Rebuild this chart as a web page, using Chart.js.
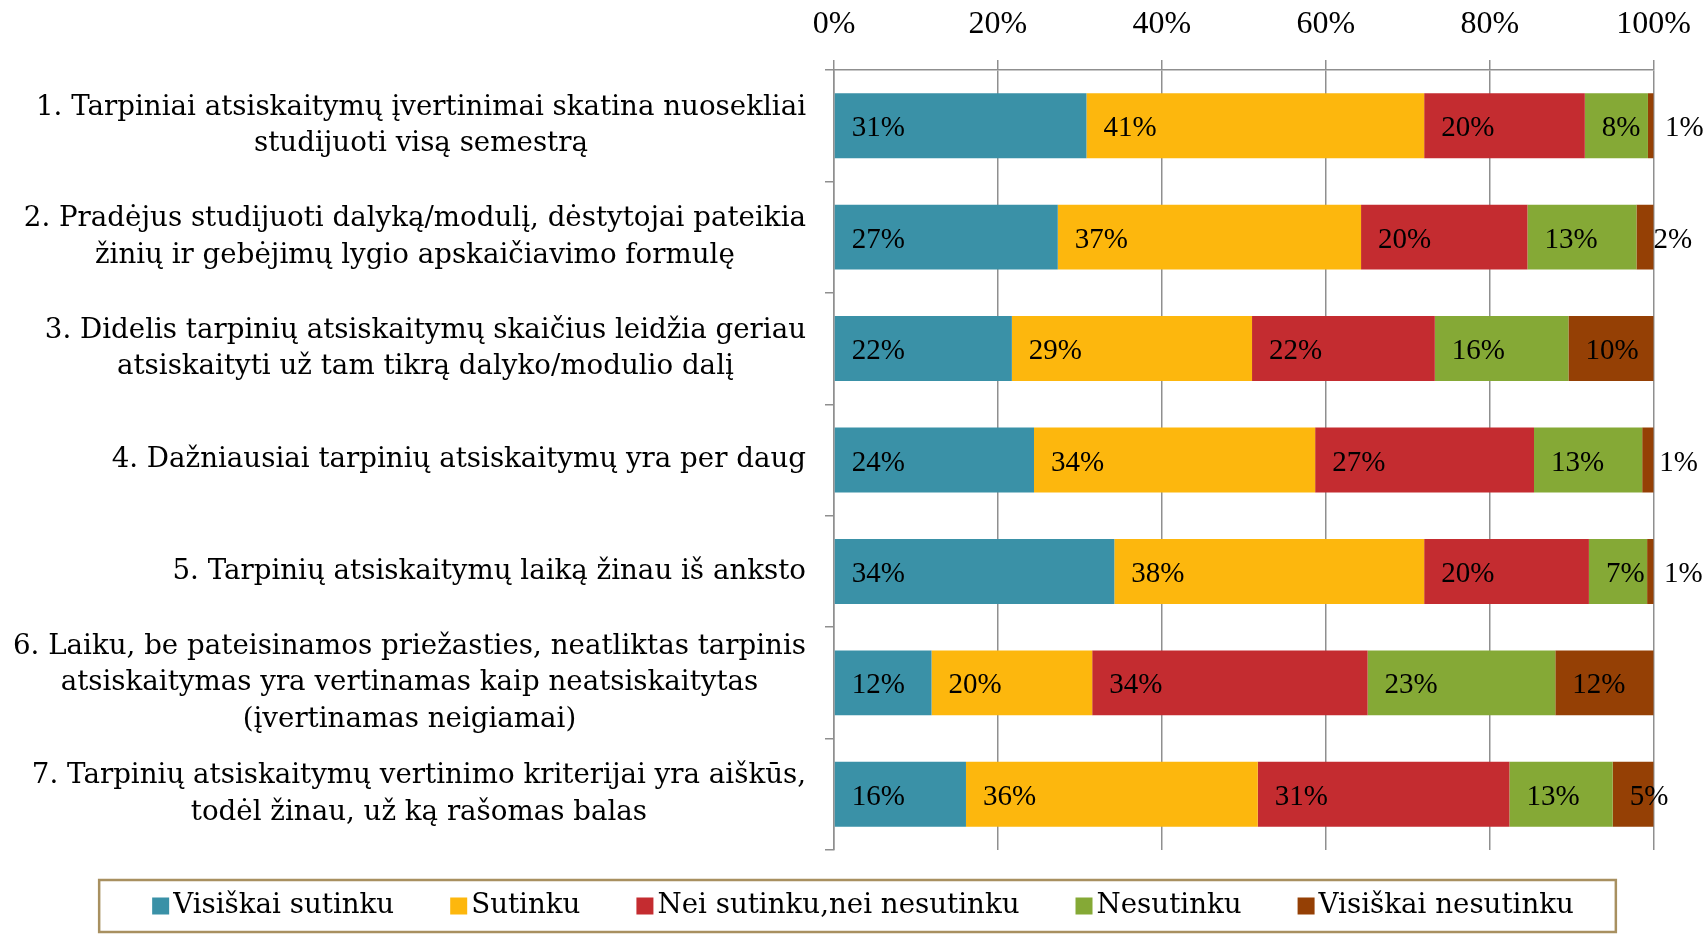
<!DOCTYPE html>
<html>
<head>
<meta charset="utf-8">
<title>Tarpiniai atsiskaitymai</title>
<script src="https://cdn.jsdelivr.net/npm/chart.js@4/dist/chart.umd.min.js"></script>
<style>
  html, body { margin: 0; padding: 0; background: #fff; }
  #wrap { width: 1707px; height: 934px; position: relative; }
</style>
</head>
<body>
<div id="wrap"><canvas id="myChart"></canvas></div>
<script>
// statements (multi-line labels)
const categories = [
  ['1. Tarpiniai atsiskaitymų įvertinimai skatina nuosekliai', 'studijuoti visą semestrą'],
  ['2. Pradėjus studijuoti dalyką/modulį, dėstytojai pateikia', 'žinių ir gebėjimų lygio apskaičiavimo formulę'],
  ['3. Didelis tarpinių atsiskaitymų skaičius leidžia geriau', 'atsiskaityti už tam tikrą dalyko/modulio dalį'],
  ['4. Dažniausiai tarpinių atsiskaitymų yra per daug'],
  ['5. Tarpinių atsiskaitymų laiką žinau iš anksto'],
  ['6. Laiku, be pateisinamos priežasties, neatliktas tarpinis', 'atsiskaitymas yra vertinamas kaip neatsiskaitytas', '(įvertinamas neigiamai)'],
  ['7. Tarpinių atsiskaitymų vertinimo kriterijai yra aiškūs,', 'todėl žinau, už ką rašomas balas']
];

const seriesNames = ['Visiškai sutinku', 'Sutinku', 'Nei sutinku,nei nesutinku', 'Nesutinku', 'Visiškai nesutinku'];

// percentages per answer, one value per statement
const visiskaiSutinku   = [30.8, 27.3, 21.7, 24.4, 34.2, 11.9, 16.1];
const sutinku           = [41.2, 37.0, 29.3, 34.3, 37.8, 19.6, 35.6];
const neiSutinku        = [19.6, 20.3, 22.3, 26.7, 20.1, 33.6, 30.7];
const nesutinku         = [ 7.7, 13.3, 16.3, 13.2,  7.1, 22.9, 12.6];
const visiskaiNesutinku = [ 0.7,  2.1, 10.4,  1.4,  0.8, 12.0,  5.0];

const xTicks = [0, 20, 40, 60, 80, 100];

const colors = ['#3A91A7', '#FDB70D', '#C42C30', '#85A936', '#954005'];
const FONT = "'DejaVu Serif', Georgia, serif";
const NUM_FONT = "'Liberation Serif', 'Times New Roman', serif";
const gridColor = '#8f8f8f';

const allSeries = [visiskaiSutinku, sutinku, neiSutinku, nesutinku, visiskaiNesutinku];

// draws y labels (right aligned block, lines centred), value labels and the boxed legend
const customDraw = {
  id: 'customDraw',
  afterDatasetsDraw(chart) {
    const ctx = chart.ctx;
    const yScale = chart.scales.y;

    // category labels
    ctx.save();
    ctx.font = '27.7px ' + FONT;
    ctx.fillStyle = '#000';
    ctx.textBaseline = 'middle';
    ctx.textAlign = 'center';
    const lh = 36.5;
    const right = yScale.right - 28;
    categories.forEach((lines, i) => {
      const y = yScale.getPixelForTick(i);
      const w = Math.max(...lines.map(l => ctx.measureText(l).width));
      const cx = right - w / 2;
      const top = y - lines.length * lh / 2;
      lines.forEach((l, j) => ctx.fillText(l, cx, top + lh * (j + 0.5)));
    });
    ctx.restore();

    // value labels at the base of every segment
    ctx.save();
    ctx.font = '29px ' + NUM_FONT;
    ctx.fillStyle = '#000';
    ctx.textBaseline = 'middle';
    ctx.textAlign = 'left';
    chart.data.datasets.forEach((ds, di) => {
      const meta = chart.getDatasetMeta(di);
      meta.data.forEach((bar, i) => {
        const start = Math.min(bar.base, bar.x);
        ctx.fillText(Math.round(ds.data[i]) + '%', start + 17, bar.y + 3);
      });
    });
    ctx.restore();

    // legend
    ctx.save();
    ctx.font = '27.7px ' + FONT;
    ctx.textBaseline = 'middle';
    ctx.textAlign = 'left';
    const box = 17, textGap = 21, itemGap = 56;
    const widths = seriesNames.map(n => ctx.measureText(n).width);
    const total = widths.reduce((a, w) => a + textGap + w, 0) + itemGap * (seriesNames.length - 1);
    let x = 863 - total / 2;
    const cy = 906;
    const legendLeft = x - 53;
    seriesNames.forEach((n, i) => {
      ctx.fillStyle = colors[i];
      ctx.fillRect(x, cy - box / 2, box, box);
      ctx.fillStyle = '#000';
      ctx.fillText(n, x + textGap, cy);
      x += textGap + widths[i] + itemGap;
    });
    const legendRight = x - itemGap + 42;
    ctx.strokeStyle = '#A89060';
    ctx.lineWidth = 2.5;
    ctx.strokeRect(legendLeft, 880, legendRight - legendLeft, 52);
    ctx.restore();
  }
};

const datasets = allSeries.map((data, i) => ({
  label: seriesNames[i],
  data: data,
  backgroundColor: colors[i],
  borderWidth: 0,
  barPercentage: 0.583,
  categoryPercentage: 1
}));

new Chart(document.getElementById('myChart').getContext('2d'), {
  type: 'bar',
  data: {
    labels: categories,
    datasets: datasets
  },
  options: {
    indexAxis: 'y',
    responsive: true,
    maintainAspectRatio: false,
    animation: false,
    layout: { padding: { top: 0, right: 40, bottom: 84, left: 0 } },
    plugins: {
      legend: { display: false },
      tooltip: { enabled: false },
      title: { display: false }
    },
    scales: {
      x: {
        position: 'top',
        stacked: true,
        min: 0,
        max: 100,
        afterBuildTicks(scale) { scale.ticks = xTicks.map(v => ({ value: v })); },
        afterFit(scale) { scale.height = 70; },
        ticks: {
          padding: 16,
          color: '#000',
          font: { family: NUM_FONT, size: 32 },
          callback: v => v + '%'
        },
        grid: { color: gridColor, lineWidth: 1.5, tickLength: 10 },
        border: { color: gridColor, width: 1.5 }
      },
      y: {
        stacked: true,
        afterFit(scale) { scale.width = 834; },
        ticks: { display: false },
        grid: { offset: true, drawOnChartArea: false, color: gridColor, lineWidth: 1.5, tickLength: 9 },
        border: { color: gridColor, width: 1.5 }
      }
    }
  },
  plugins: [customDraw]
});
</script>
</body>
</html>
